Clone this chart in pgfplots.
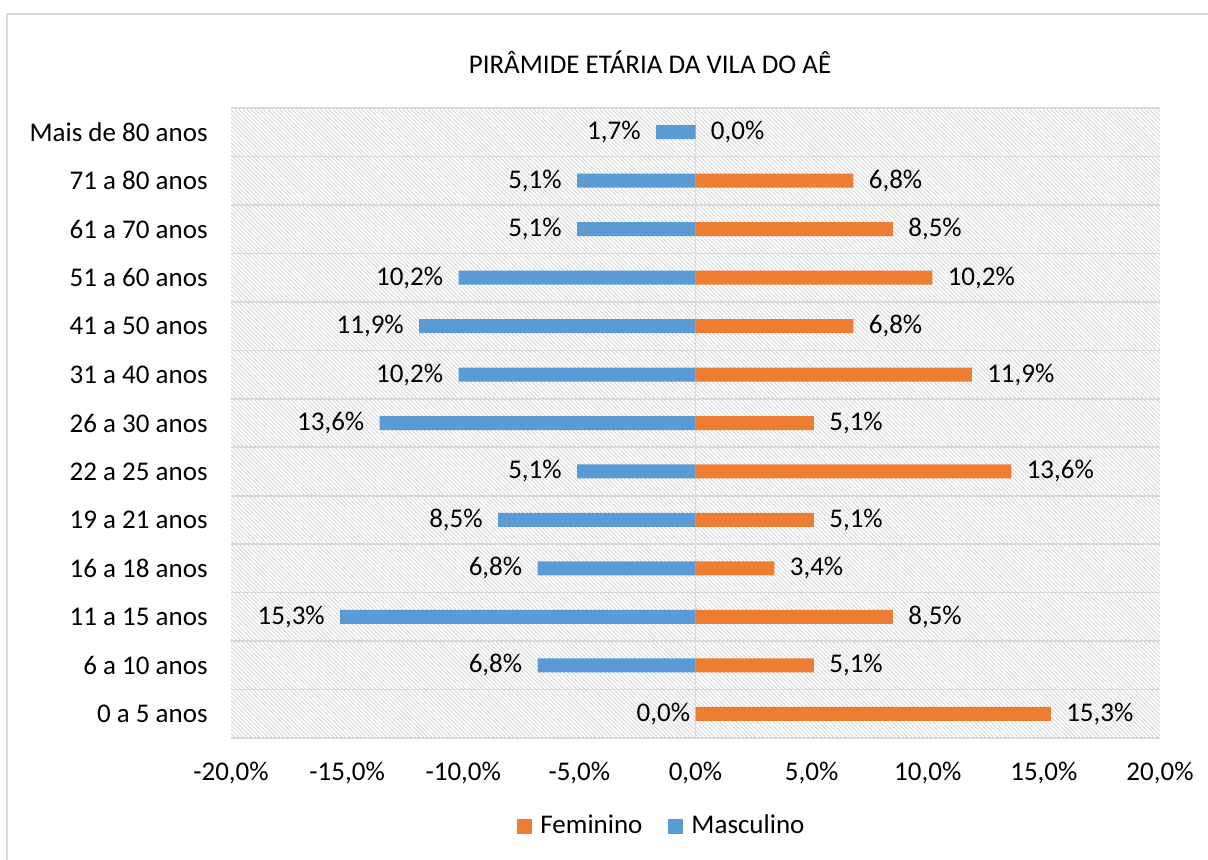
\documentclass[border=0pt]{standalone}
\usepackage{pgfplots}
\pgfplotsset{compat=1.18}
\usepackage{fontspec}
\setmainfont{Carlito}
\usetikzlibrary{patterns.meta}
\definecolor{fem}{HTML}{ED7D31}
\definecolor{mas}{HTML}{5B9BD5}
\definecolor{gridc}{HTML}{D9D9D9}
\begin{document}
\fontsize{13.5}{16}\selectfont
\begin{tikzpicture}
\path[use as bounding box] (0,0) rectangle (604pt,429.5pt);
\draw[gridc, line width=1pt] (3.5pt,-2pt) -- (3.5pt,422.5pt) -- (606pt,422.5pt);
\node[font=\fontsize{13.5}{16}\selectfont] at (325pt,398.5pt) {PIRÂMIDE ETÁRIA DA VILA DO AÊ};
\begin{axis}[
  at={(115.5pt,60.5pt)}, anchor=south west,
  width=464.5pt, height=315pt, scale only axis,
  xbar, bar width=7pt, bar shift=0pt,
  xmin=-20, xmax=20, ymin=-0.5, ymax=12.5,
  axis line style={draw=none},
  axis background/.style={pattern={Lines[angle=-45,distance=1.45pt,line width=0.5pt]}, pattern color=gridc},
  major tick length=0pt, minor tick length=0pt,
  xtick={-20,-15,-10,-5,0,5,10,15,20},
  xticklabels={-20{,}0\%,-15{,}0\%,-10{,}0\%,-5{,}0\%,0{,}0\%,5{,}0\%,10{,}0\%,15{,}0\%,20{,}0\%},
  xticklabel style={yshift=-7.5pt},
  ytick={0,...,12},
  yticklabels={0 a 5 anos,6 a 10 anos,11 a 15 anos,16 a 18 anos,19 a 21 anos,22 a 25 anos,26 a 30 anos,31 a 40 anos,41 a 50 anos,51 a 60 anos,61 a 70 anos,71 a 80 anos,Mais de 80 anos},
  yticklabel style={xshift=-7pt},
  minor ytick={-0.5,0.5,...,12.5},
  yminorgrids=true,
  minor grid style={gridc, line width=0.8pt},
  extra x ticks={0}, extra x tick labels={},
  extra x tick style={grid=major, major grid style={gridc, line width=0.8pt}},
  tick label style={font=\fontsize{13.5}{16}\selectfont},
  point meta=explicit symbolic,
  nodes near coords,
  nodes near coords style={font=\fontsize{13.5}{16}\selectfont, text=black},
  legend style={at={(0.465,-0.14)}, anchor=center, draw=none, fill=none, legend columns=2,
    font=\fontsize{13.5}{16}\selectfont,
    /tikz/every odd column/.append style={column sep=2pt},
    /tikz/every even column/.append style={column sep=11pt}},
  legend image code/.code={\fill[#1] (0pt,-3.75pt) rectangle (7.5pt,3.75pt);},
]
\addplot[fill=fem, draw=none, nodes near coords style={anchor=west, xshift=3pt}] coordinates {
(15.3,0) [15{,}3\%]
(5.1,1) [5{,}1\%]
(8.5,2) [8{,}5\%]
(3.4,3) [3{,}4\%]
(5.1,4) [5{,}1\%]
(13.6,5) [13{,}6\%]
(5.1,6) [5{,}1\%]
(11.9,7) [11{,}9\%]
(6.8,8) [6{,}8\%]
(10.2,9) [10{,}2\%]
(8.5,10) [8{,}5\%]
(6.8,11) [6{,}8\%]
(0,12) [0{,}0\%]
};
\addlegendentry{Feminino}
\addplot[fill=mas, draw=none, nodes near coords style={anchor=east, xshift=-3pt}] coordinates {
(-6.8,1) [6{,}8\%]
(-15.3,2) [15{,}3\%]
(-6.8,3) [6{,}8\%]
(-8.5,4) [8{,}5\%]
(-5.1,5) [5{,}1\%]
(-13.6,6) [13{,}6\%]
(-10.2,7) [10{,}2\%]
(-11.9,8) [11{,}9\%]
(-10.2,9) [10{,}2\%]
(-5.1,10) [5{,}1\%]
(-5.1,11) [5{,}1\%]
(-1.7,12) [1{,}7\%]
};
\addlegendentry{Masculino}
\addplot[fill=mas, draw=none, forget plot, nodes near coords style={anchor=east, xshift=2pt}] coordinates {
(0,0) [0{,}0\%]
};
\end{axis}
\end{tikzpicture}
\end{document}
